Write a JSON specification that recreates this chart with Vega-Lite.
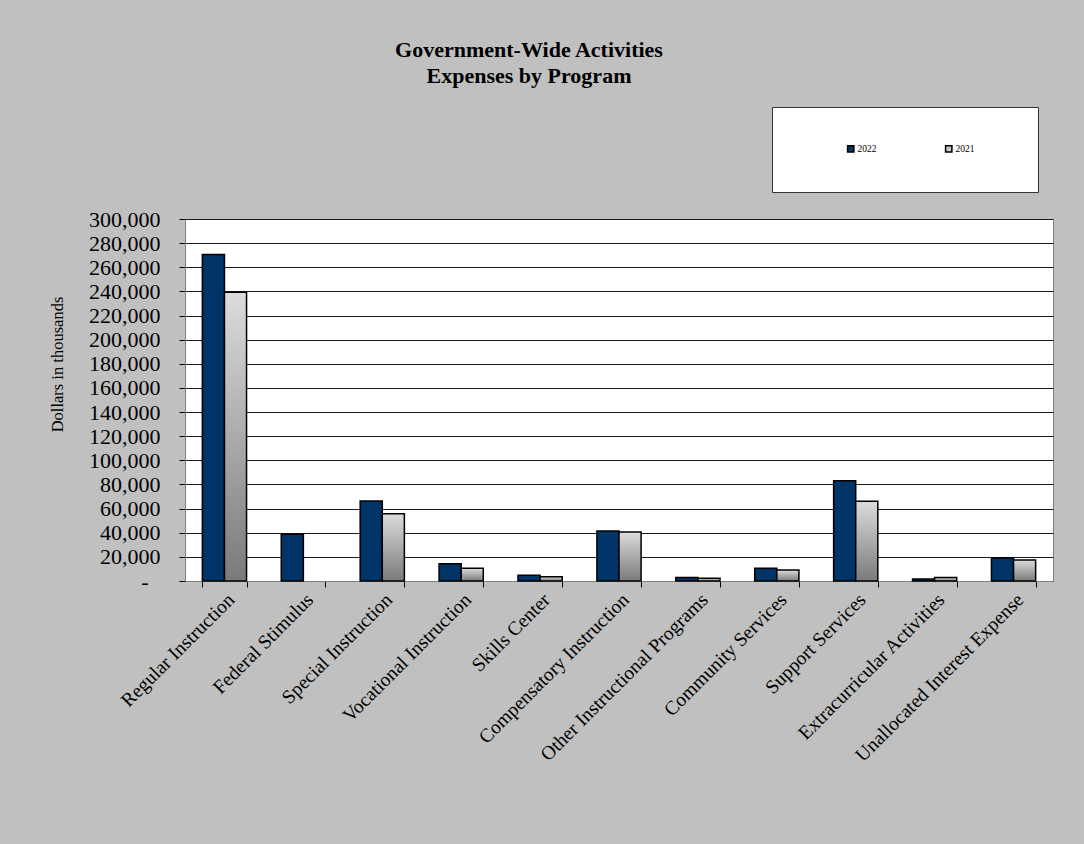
{
  "$schema": "https://vega.github.io/schema/vega-lite/v6.json",
  "autosize": {"type": "none"},
  "padding": {"left": 185, "top": 219, "right": 31, "bottom": 263},
  "width": 868,
  "height": 362,
  "background": "#c0c0c0",
  "config": {
    "view": {"fill": "white", "stroke": "#808080", "strokeWidth": 1},
    "font": "Liberation Serif"
  },
  "title": {
    "text": ["Government-Wide Activities", "Expenses by Program"],
    "font": "Liberation Serif",
    "fontSize": 22,
    "fontWeight": "bold",
    "color": "black",
    "anchor": "middle",
    "frame": "group",
    "dx": -90,
    "offset": 19,
    "lineHeight": 26
  },
  "data": {
    "values": [
      {"program": "Regular Instruction", "year": "2022", "value": 270500},
      {"program": "Regular Instruction", "year": "2021", "value": 239200},
      {"program": "Federal Stimulus", "year": "2022", "value": 38700},
      {"program": "Federal Stimulus", "year": "2021", "value": 0},
      {"program": "Special Instruction", "year": "2022", "value": 66300},
      {"program": "Special Instruction", "year": "2021", "value": 55800},
      {"program": "Vocational Instruction", "year": "2022", "value": 14300},
      {"program": "Vocational Instruction", "year": "2021", "value": 10500},
      {"program": "Skills Center", "year": "2022", "value": 4700},
      {"program": "Skills Center", "year": "2021", "value": 3600},
      {"program": "Compensatory Instruction", "year": "2022", "value": 41400},
      {"program": "Compensatory Instruction", "year": "2021", "value": 40600},
      {"program": "Other Instructional Programs", "year": "2022", "value": 3000},
      {"program": "Other Instructional Programs", "year": "2021", "value": 2200},
      {"program": "Community Services", "year": "2022", "value": 10500},
      {"program": "Community Services", "year": "2021", "value": 9100},
      {"program": "Support Services", "year": "2022", "value": 83100},
      {"program": "Support Services", "year": "2021", "value": 66000},
      {"program": "Extracurricular Activities", "year": "2022", "value": 1600},
      {"program": "Extracurricular Activities", "year": "2021", "value": 3000},
      {"program": "Unallocated Interest Expense", "year": "2022", "value": 19100},
      {"program": "Unallocated Interest Expense", "year": "2021", "value": 17400}
    ]
  },
  "encoding": {
    "x": {
      "field": "program",
      "type": "nominal",
      "sort": null,
      "scale": {"paddingInner": 0.44, "paddingOuter": 0.22},
      "axis": {
        "title": null,
        "labelAngle": -45,
        "labelFont": "Liberation Serif",
        "labelFontSize": 19.5,
        "labelColor": "black",
        "labelLimit": 400,
        "labelOverlap": false,
        "tickBand": "extent",
        "tickSize": 6,
        "tickColor": "#000",
        "domainColor": "#808080",
        "labelPadding": 3
      }
    },
    "xOffset": {
      "field": "year",
      "type": "nominal",
      "scale": {"domain": ["2022", "2021"], "paddingInner": 0, "paddingOuter": 0}
    },
    "y": {
      "field": "value",
      "type": "quantitative",
      "scale": {"domain": [0, 300000], "nice": false},
      "axis": {
        "title": "Dollars  in thousands",
        "titleFont": "Liberation Serif",
        "titleFontSize": 16.5,
        "titleFontWeight": "normal",
        "titleColor": "black",
        "titleAngle": 270,
        "titleAlign": "center",
        "titleBaseline": "alphabetic",
        "titleX": -123,
        "titleY": 145,
        "values": [0, 20000, 40000, 60000, 80000, 100000, 120000, 140000, 160000, 180000, 200000, 220000, 240000, 260000, 280000, 300000],
        "labelExpr": "datum.value == 0 ? '-' : format(datum.value, ',')",
        "labelFont": "Liberation Serif",
        "labelFontSize": 22,
        "labelColor": "black",
        "labelOverlap": false,
        "labelPadding": {"condition": {"test": "datum.value == 0", "value": 31}, "value": 19},
        "grid": true,
        "gridColor": "#1a1a1a",
        "gridWidth": 1,
        "tickSize": 6,
        "tickColor": "#000",
        "domainColor": "#808080"
      }
    }
  },
  "layer": [
    {
      "transform": [{"filter": "datum.year == '2022'"}],
      "mark": {"type": "bar", "stroke": "black", "strokeWidth": 1.5},
      "encoding": {
        "fill": {
          "field": "year",
          "type": "nominal",
          "scale": {"domain": ["2022", "2021"], "range": ["#003366", "#c8c8c8"]},
          "legend": {
            "title": " ",
            "titleOrient": "right",
            "titlePadding": 26,
            "orient": "none",
            "legendX": 587,
            "legendY": -112,
            "direction": "horizontal",
            "columns": 2,
            "fillColor": "white",
            "strokeColor": "#333",
            "padding": 37,
            "symbolOffset": 37,
            "columnPadding": 30,
            "symbolType": "square",
            "symbolSize": 40,
            "symbolStrokeColor": "black",
            "symbolStrokeWidth": 1.5,
            "labelFont": "Liberation Serif",
            "labelFontSize": 9.5,
            "labelColor": "black",
            "labelOffset": 2
          }
        }
      }
    },
    {
      "transform": [{"filter": "datum.year == '2021' && datum.value > 0"}],
      "mark": {
        "type": "bar",
        "stroke": "black",
        "strokeWidth": 1.5,
        "fill": {
          "gradient": "linear",
          "x1": 0, "y1": 0, "x2": 0, "y2": 1,
          "stops": [
            {"offset": 0, "color": "#dcdcdc"},
            {"offset": 1, "color": "#7a7a7a"}
          ]
        }
      }
    }
  ]
}
